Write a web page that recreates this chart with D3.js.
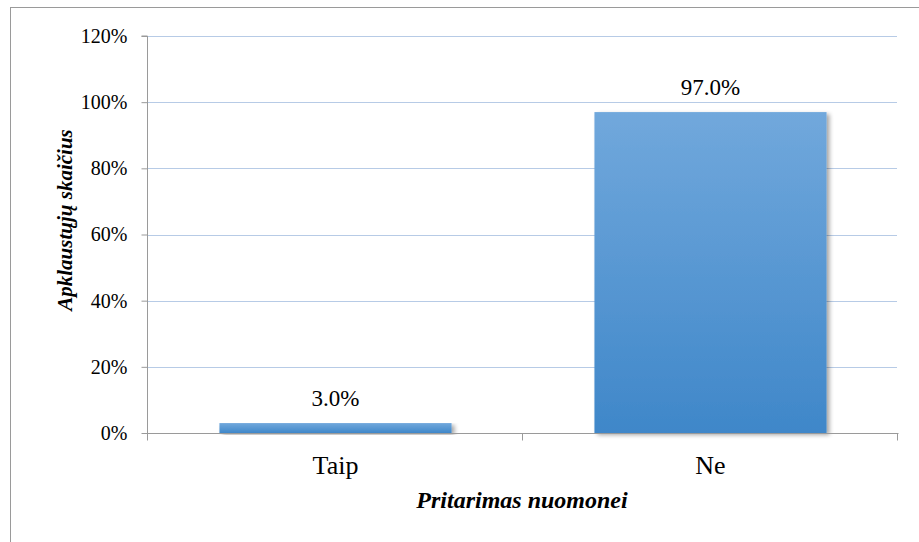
<!DOCTYPE html>
<html>
<head>
<meta charset="utf-8">
<script src="https://cdn.jsdelivr.net/npm/d3@7"></script>
</head>
<body style="margin:0">
<svg id="chart" width="919" height="542" font-family="Liberation Serif"></svg>
<script>
// Survey answers: share of respondents agreeing with the opinion
const categories = ["Taip", "Ne"];
const values = [0.03, 0.97];
const valueLabels = ["3.0%", "97.0%"];
const yTicks = [0, 0.2, 0.4, 0.6, 0.8, 1.0, 1.2];
const xTitle = "Pritarimas nuomonei";
const yTitle = "Apklaustųjų skaičius";

const FONT = "Liberation Serif";

const svg = d3.select("#chart");
const W = 919, H = 542;
const plot = { left: 148, right: 898, top: 36, bottom: 433 };

// Outer chart border
svg.append("rect")
  .attr("x", 10.5).attr("y", 7.5)
  .attr("width", W).attr("height", H)
  .attr("fill", "#fff").attr("stroke", "#9a9a9a").attr("stroke-width", 1);

const defs = svg.append("defs");
const grad = defs.append("linearGradient")
  .attr("id", "barFill").attr("x1", 0).attr("y1", 0).attr("x2", 0).attr("y2", 1);
grad.append("stop").attr("offset", "0%").attr("stop-color", "#71a8dc");
grad.append("stop").attr("offset", "100%").attr("stop-color", "#3f87c9");

const shadow = defs.append("filter").attr("id", "barShadow")
  .attr("x", "-10%").attr("y", "-10%").attr("width", "130%").attr("height", "130%");
shadow.append("feGaussianBlur").attr("in", "SourceAlpha").attr("stdDeviation", 2.2).attr("result", "blur");
shadow.append("feOffset").attr("in", "blur").attr("dx", 2.5).attr("dy", 1.5).attr("result", "off");
shadow.append("feComponentTransfer").attr("in", "off").attr("result", "soft")
  .append("feFuncA").attr("type", "linear").attr("slope", 0.35);
const merge = shadow.append("feMerge");
merge.append("feMergeNode").attr("in", "soft");
merge.append("feMergeNode").attr("in", "SourceGraphic");

const x = d3.scaleBand()
  .domain(categories)
  .range([plot.left, plot.right])
  .paddingInner(0)
  .paddingOuter(0);
const barPad = 0.381;

const y = d3.scaleLinear()
  .domain([0, 1.2])
  .range([plot.bottom, plot.top]);

// Horizontal gridlines
svg.append("g")
  .selectAll("line")
  .data(yTicks.filter(t => t > 0))
  .join("line")
  .attr("x1", plot.left).attr("x2", plot.right - 1)
  .attr("y1", d => Math.round(y(d)) + 0.5).attr("y2", d => Math.round(y(d)) + 0.5)
  .attr("stroke", "#b7cbe6").attr("stroke-width", 1);

const rows = categories.map((c, i) => ({ c, v: values[i], label: valueLabels[i] }));

// Bars
const bw = x.bandwidth() * (1 - barPad);
svg.append("g")
  .selectAll("rect")
  .data(rows)
  .join("rect")
  .attr("x", d => x(d.c) + (x.bandwidth() - bw) / 2)
  .attr("y", d => y(d.v))
  .attr("width", bw)
  .attr("height", d => y(0) - y(d.v))
  .attr("fill", "url(#barFill)")
  .attr("filter", "url(#barShadow)");

// Y axis
const yAxis = svg.append("g")
  .attr("transform", `translate(${plot.left - 0.5},0)`)
  .call(d3.axisLeft(y).tickValues(yTicks).tickFormat(d3.format(".0%")).tickSize(6).tickPadding(14))
  .attr("font-family", FONT)
  .attr("font-size", 20);
yAxis.selectAll("path, line").attr("stroke", "#9a9a9a");
yAxis.select(".domain").attr("d", `M-6,${y(1.2)}H0V${y(0)}`);
yAxis.selectAll("text")
  .attr("font-family", FONT)
  .style("font-family", FONT)
  .attr("fill", "#000");

// X axis with ticks between categories
const xAxisG = svg.append("g").attr("transform", `translate(0,${plot.bottom + 0.5})`);
xAxisG.append("line")
  .attr("x1", plot.left - 6).attr("x2", plot.right + 0.5)
  .attr("stroke", "#9a9a9a");
const boundaries = [plot.left, ...categories.slice(1).map(c => x(c)), plot.right];
xAxisG.selectAll("line.tick")
  .data(boundaries)
  .join("line")
  .attr("class", "tick")
  .attr("x1", d => d - 0.5).attr("x2", d => d - 0.5)
  .attr("y1", 0).attr("y2", 7)
  .attr("stroke", "#9a9a9a");
xAxisG.selectAll("text")
  .data(categories)
  .join("text")
  .attr("x", d => x(d) + x.bandwidth() / 2)
  .attr("y", 40)
  .attr("text-anchor", "middle")
  .attr("font-family", FONT)
  .style("font-family", FONT)
  .attr("font-size", 26)
  .attr("fill", "#000")
  .text(d => d);

// Value labels above bars
svg.append("g")
  .selectAll("text")
  .data(rows)
  .join("text")
  .attr("x", d => x(d.c) + x.bandwidth() / 2)
  .attr("y", d => y(d.v) - 17)
  .attr("text-anchor", "middle")
  .attr("font-family", FONT)
  .style("font-family", FONT)
  .attr("font-size", 23)
  .attr("fill", "#000")
  .text(d => d.label);

// Axis titles
svg.append("text")
  .attr("x", (plot.left + plot.right) / 2 - 1)
  .attr("y", 508)
  .attr("text-anchor", "middle")
  .attr("font-family", FONT)
  .style("font-family", FONT)
  .attr("font-size", 24)
  .attr("font-weight", "bold")
  .attr("font-style", "italic")
  .attr("fill", "#000")
  .text(xTitle);

svg.append("text")
  .attr("transform", `translate(72,${220}) rotate(-90)`)
  .attr("text-anchor", "middle")
  .attr("font-family", FONT)
  .style("font-family", FONT)
  .attr("font-size", 21)
  .attr("font-weight", "bold")
  .attr("font-style", "italic")
  .attr("fill", "#000")
  .text(yTitle);
</script>
</body>
</html>
